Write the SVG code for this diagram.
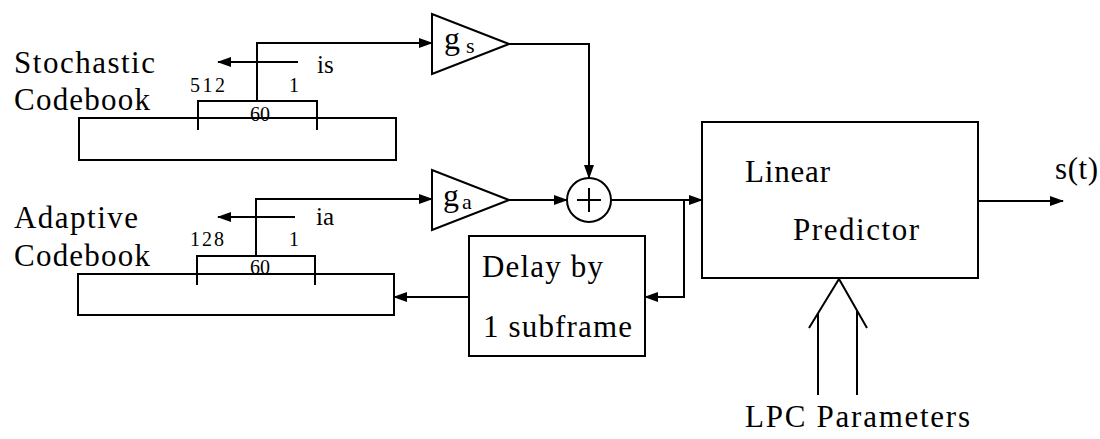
<svg xmlns="http://www.w3.org/2000/svg" width="1100" height="439" viewBox="0 0 1100 439">
<style>
  .ln { fill: none; stroke: #000; stroke-width: 2; }
  .bx { fill: #fff; stroke: #000; stroke-width: 2; }
  .big { font-size: 31px; }
  .sm { font-size: 20px; }
  text { font-family: 'Liberation Serif', 'DejaVu Serif', 'Times New Roman', Times, serif; }
</style>
<defs>
  <marker id="ah" markerWidth="14" markerHeight="10" refX="13" refY="5" orient="auto" markerUnits="userSpaceOnUse">
    <path d="M0,0 L14,5 L0,10 Z" fill="#000"/>
  </marker>
</defs>
<rect width="1100" height="439" fill="#fff"/>
<g fill="#000">

<g id="stochastic-codebook">
  <rect class="bx" x="79" y="118" width="317" height="42"/>
  <polyline class="ln" points="198,130 198,101 317,101 317,130"/>
  <text class="big" x="14" y="73" textLength="141" lengthAdjust="spacing">Stochastic</text>
  <text class="big" x="14" y="110" textLength="136" lengthAdjust="spacing">Codebook</text>
  <text class="sm" x="190" y="92" textLength="35" lengthAdjust="spacing">512</text>
  <text class="sm" x="289" y="92">1</text>
  <text class="sm" x="260" y="121" text-anchor="middle">60</text>
  <text x="317" y="73" font-size="25">is</text>
</g>

<g id="adaptive-codebook">
  <rect class="bx" x="78" y="274" width="316" height="41"/>
  <polyline class="ln" points="197,285 197,256 315,256 315,285"/>
  <text class="big" x="14" y="228" textLength="124" lengthAdjust="spacing">Adaptive</text>
  <text class="big" x="14" y="266" textLength="136" lengthAdjust="spacing">Codebook</text>
  <text class="sm" x="190" y="246" textLength="34" lengthAdjust="spacing">128</text>
  <text class="sm" x="289" y="246">1</text>
  <text class="sm" x="260" y="274" text-anchor="middle">60</text>
  <text x="316" y="225" font-size="25">ia</text>
</g>

<g id="gain-s">
  <polygon class="bx" points="432,14 432,74 509,44"/>
  <text x="444" y="49" font-size="32">g</text>
  <text x="466" y="53" font-size="22">s</text>
</g>

<g id="gain-a">
  <polygon class="bx" points="432,170 432,230 509,200"/>
  <text x="443" y="206" font-size="32">g</text>
  <text x="462" y="209" font-size="22">a</text>
</g>

<g id="summer">
  <circle class="bx" cx="589" cy="200" r="22"/>
  <line class="ln" x1="577" y1="200" x2="601" y2="200"/>
  <line class="ln" x1="589" y1="188" x2="589" y2="212"/>
</g>

<g id="delay">
  <rect class="bx" x="469" y="236" width="176" height="120"/>
  <text class="big" x="482" y="277" textLength="121" lengthAdjust="spacing">Delay by</text>
  <text class="big" x="483" y="337" textLength="149" lengthAdjust="spacing">1 subframe</text>
</g>

<g id="linear-predictor">
  <rect class="bx" x="702" y="122" width="276" height="156"/>
  <text class="big" x="745" y="182" textLength="85" lengthAdjust="spacing">Linear</text>
  <text class="big" x="793" y="240" textLength="126" lengthAdjust="spacing">Predictor</text>
</g>

<g id="lpc-parameters">
  <text class="big" x="745" y="427" textLength="225" lengthAdjust="spacing">LPC Parameters</text>
</g>

<g id="output-label">
  <text class="big" x="1055" y="179" textLength="43" lengthAdjust="spacing">s(t)</text>
</g>

</g>
<g id="connectors">
  <line class="ln" x1="298" y1="62" x2="218" y2="62" marker-end="url(#ah)"/>
  <line class="ln" x1="295" y1="217" x2="218" y2="217" marker-end="url(#ah)"/>
  <polyline class="ln" points="257,101 257,43 432,43" marker-end="url(#ah)"/>
  <polyline class="ln" points="256,256 256,199 432,199" marker-end="url(#ah)"/>
  <polyline class="ln" points="509,44 589,44 589,178" marker-end="url(#ah)"/>
  <line class="ln" x1="509" y1="200" x2="567" y2="200" marker-end="url(#ah)"/>
  <line class="ln" x1="611" y1="200" x2="702" y2="200" marker-end="url(#ah)"/>
  <polyline class="ln" points="684,200 684,297 645,297" marker-end="url(#ah)"/>
  <line class="ln" x1="469" y1="297" x2="394" y2="297" marker-end="url(#ah)"/>
  <line class="ln" x1="978" y1="201" x2="1063" y2="201" marker-end="url(#ah)"/>
  <polyline class="ln" points="809,328 839,279 867,328"/>
  <line class="ln" x1="818" y1="313" x2="818" y2="395"/>
  <line class="ln" x1="857" y1="311" x2="857" y2="395"/>
</g>
</svg>
